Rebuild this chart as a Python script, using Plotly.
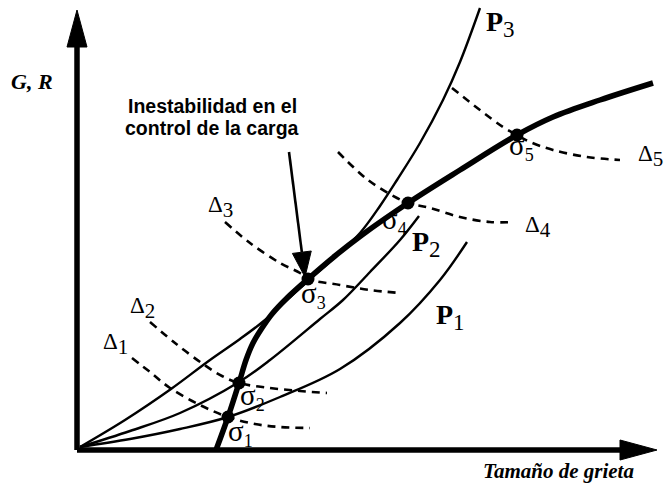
import plotly.graph_objects as go

W, H = 671, 492

# Diagram frame: origin of the two axes and their arrow tips (diagram units)
ORIGIN = [77, 450]
X_TIP = [657, 450]
Y_TIP = [77, 10]

# Crack resistance curve R
R_X = [216, 228, 239, 246, 253, 262, 272, 287, 308, 335, 362, 408, 460, 517, 553, 600, 653]
R_Y = [450, 417, 383, 360, 343, 328, 314, 298, 279, 256, 235, 203, 170, 135, 117, 100, 83]

# Crack driving force curves G for loads P1 < P2 < P3
P1_X = [80, 130, 180, 228, 280, 340, 400, 440, 467]
P1_Y = [447, 439, 429, 417, 397, 369, 323, 280, 242]
P2_X = [80, 130, 180, 239, 270, 320, 343, 370, 400, 419]
P2_Y = [447, 431, 413, 382, 360, 319, 300, 272, 240, 216]
P3_X = [80, 125, 171, 210, 240, 265, 287, 308, 335, 360, 380, 397, 420, 443, 460, 480]
P3_Y = [447, 420, 389, 360, 339, 320, 300, 281, 257, 233, 206, 180, 143, 100, 62, 8]

# Fixed-displacement curves Delta1..Delta5
D1_X = [132, 150, 170, 200, 228, 255, 280, 310]
D1_Y = [358, 372, 388, 405, 417, 424, 427, 428]
D2_X = [150, 175, 203, 222, 239, 270, 300, 327]
D2_Y = [322, 343, 364, 376, 383, 388, 391, 393]
D3_X = [225, 250, 280, 300, 308, 340, 370, 400]
D3_Y = [222, 243, 263, 273, 279, 285, 290, 293]
D4_X = [338, 368, 397, 408, 430, 460, 490, 513]
D4_Y = [152, 180, 198, 203, 208, 217, 222, 222]
D5_X = [452, 480, 503, 517, 530, 553, 587, 620]
D5_Y = [88, 110, 127, 135, 142, 150, 157, 160]

# Intersection points sigma1..sigma5 on R
SIGMA_X = [228, 239, 308, 408, 517]
SIGMA_Y = [417, 383, 279, 203, 135]
SIGMA_LABEL_X = [240, 252, 313, 394, 521]
SIGMA_LABEL_Y = [433, 397, 295, 221, 147]

DELTA_LABEL_X = [115, 142, 220, 538, 650]
DELTA_LABEL_Y = [344, 308, 207, 227, 156]

P_LABEL_X = [450, 426, 500]
P_LABEL_Y = [317, 244, 24]

# Callout arrow for load-control instability
CALLOUT_START = [289, 152]
CALLOUT_TIP = [305, 277]
CALLOUT_LINES = ["Inestabilidad en el", "control de la carga"]
CALLOUT_X = 212
CALLOUT_Y = [106, 128]

Y_TITLE = "<b><i>G, R</i></b>"
Y_TITLE_POS = [32, 81]
X_TITLE = "<b><i>Tamaño de grieta</i></b>"
X_TITLE_POS = [558, 471]

SERIF = "Liberation Serif"
SANS = "Liberation Sans"
BLACK = "black"


def arrow_head(tip, tail, length, half_width):
    """Triangle vertices for an arrow head pointing from tail to tip."""
    dx, dy = tip[0] - tail[0], tip[1] - tail[1]
    n = (dx * dx + dy * dy) ** 0.5
    ux, uy = dx / n, dy / n
    bx, by = tip[0] - ux * length, tip[1] - uy * length
    px, py = -uy, ux
    xs = [tip[0], bx + px * half_width, bx - px * half_width, tip[0]]
    ys = [tip[1], by + py * half_width, by - py * half_width, tip[1]]
    return xs, ys, (bx, by)


fig = go.Figure()


def add_line(xs, ys, width, dash=None, shape="spline"):
    fig.add_trace(go.Scatter(
        x=xs, y=ys, mode="lines",
        line=dict(color=BLACK, width=width, dash=dash, shape=shape, smoothing=1.0),
        hoverinfo="skip"))


def add_triangle(xs, ys):
    fig.add_trace(go.Scatter(
        x=xs, y=ys, mode="lines", fill="toself", fillcolor=BLACK,
        line=dict(color=BLACK, width=1), hoverinfo="skip"))


# Axes with arrow heads
for tip in (X_TIP, Y_TIP):
    hx, hy, base = arrow_head(tip, ORIGIN, 37, 10)
    add_line([ORIGIN[0], base[0]], [ORIGIN[1], base[1]], 5.5, shape="linear")
    add_triangle(hx, hy)

# Dashed fixed-displacement curves
for dx_, dy_ in [(D1_X, D1_Y), (D2_X, D2_Y), (D3_X, D3_Y), (D4_X, D4_Y), (D5_X, D5_Y)]:
    add_line(dx_, dy_, 2.6, dash="8px,6px")

# Driving-force curves
for px_, py_ in [(P1_X, P1_Y), (P2_X, P2_Y), (P3_X, P3_Y)]:
    add_line(px_, py_, 2.4)

# Resistance curve
add_line(R_X, R_Y, 5.5)

# Intersection points
fig.add_trace(go.Scatter(
    x=SIGMA_X, y=SIGMA_Y, mode="markers",
    marker=dict(color=BLACK, size=13), hoverinfo="skip"))

# Callout arrow
hx, hy, base = arrow_head(CALLOUT_TIP, CALLOUT_START, 25, 9.5)
add_line([CALLOUT_START[0], base[0]], [CALLOUT_START[1], base[1]], 2.6, shape="linear")
add_triangle(hx, hy)

annotations = []


def label(x, y, text, size, family=SERIF):
    annotations.append(dict(
        x=x, y=y, xref="x", yref="y", text=text, showarrow=False,
        xanchor="center", yanchor="middle",
        font=dict(family=family, size=size, color=BLACK)))


for i, (x, y) in enumerate(zip(SIGMA_LABEL_X, SIGMA_LABEL_Y)):
    label(x, y, f"σ<sub><span style='font-size:18px'>{i + 1}</span></sub>", 29)

for i, (x, y) in enumerate(zip(DELTA_LABEL_X, DELTA_LABEL_Y)):
    label(x, y, f"Δ<sub><span style='font-size:21px'>{i + 1}</span></sub>", 23)

for i, (x, y) in enumerate(zip(P_LABEL_X, P_LABEL_Y)):
    label(x, y, f"<b>P</b><sub><span style='font-size:23px'>{i + 1}</span></sub>", 28)

for line_text, y in zip(CALLOUT_LINES, CALLOUT_Y):
    label(CALLOUT_X, y, f"<b>{line_text}</b>", 19.5, SANS)
label(Y_TITLE_POS[0], Y_TITLE_POS[1], Y_TITLE, 22)
label(X_TITLE_POS[0], X_TITLE_POS[1], X_TITLE, 21)

fig.update_layout(
    width=W, height=H,
    margin=dict(l=0, r=0, t=0, b=0),
    paper_bgcolor="white", plot_bgcolor="white",
    showlegend=False,
    xaxis=dict(range=[0, W], visible=False, fixedrange=True),
    yaxis=dict(range=[H, 0], visible=False, fixedrange=True),
    annotations=annotations,
)

fig.write_html("out.html")
